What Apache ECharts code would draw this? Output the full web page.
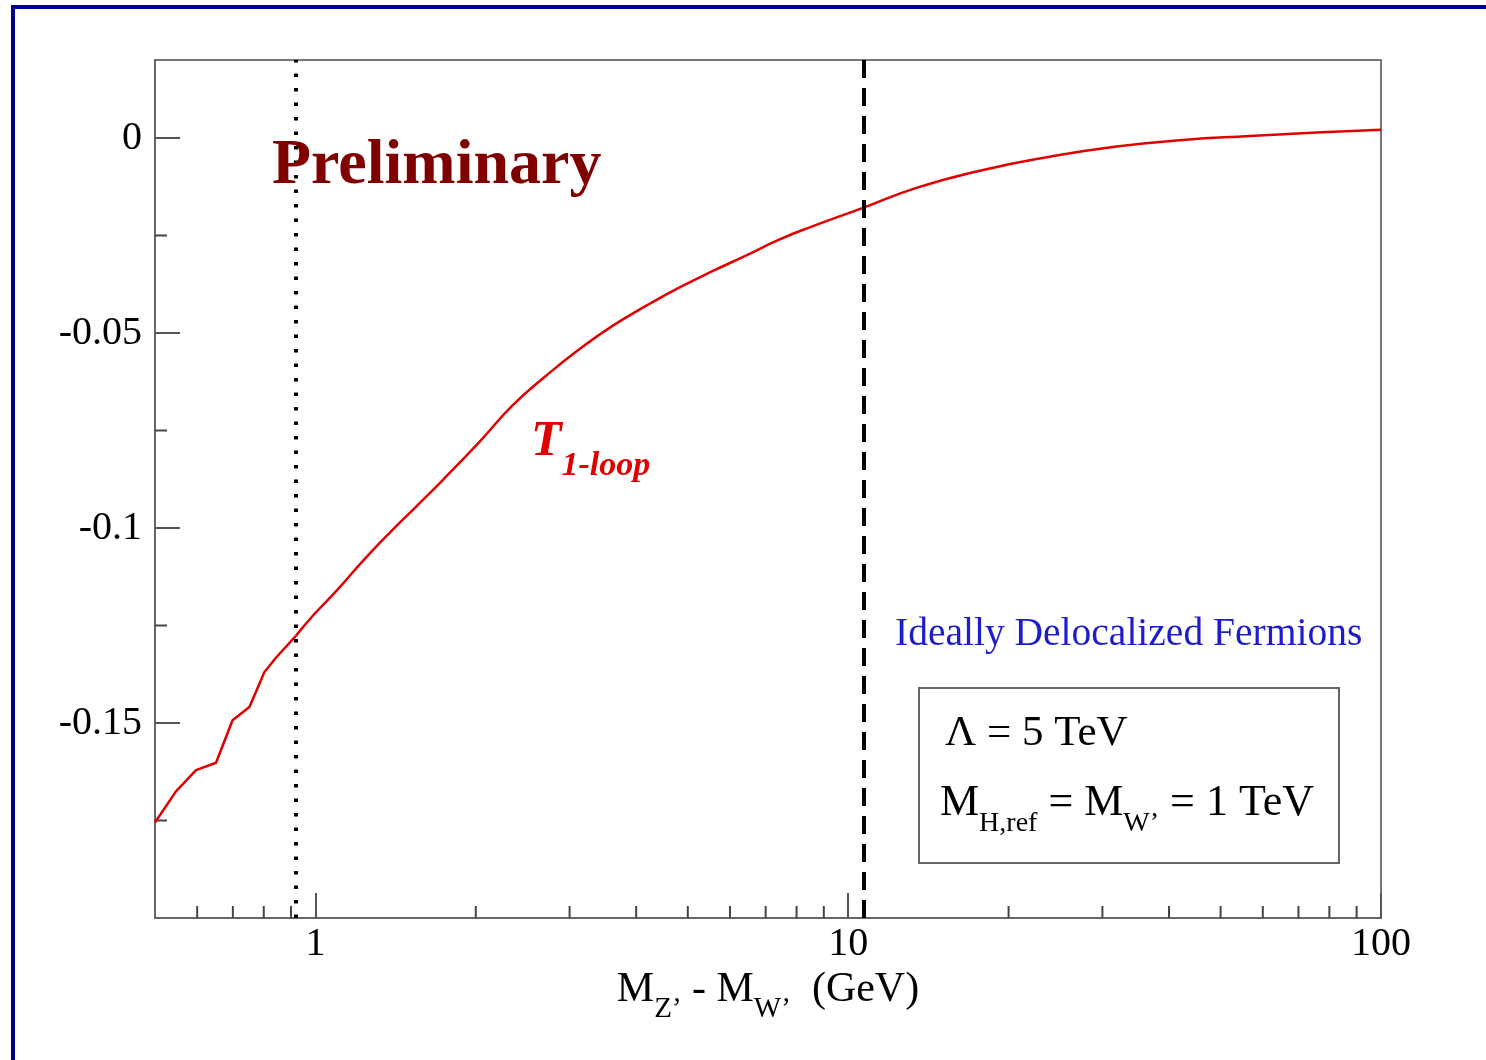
<!DOCTYPE html>
<html>
<head>
<meta charset="utf-8">
<title>T 1-loop vs M_Z' - M_W'</title>
<script src="https://cdn.jsdelivr.net/npm/echarts@6/dist/echarts.min.js"></script>
<style>
  html, body { margin: 0; padding: 0; background: #ffffff; }
  #chart { width: 1486px; height: 1060px; }
</style>
</head>
<body>
<div id="chart"></div>
<script>
// Mass splitting M_Z' - M_W' (GeV)
const massSplit = [0.5, 0.547, 0.597, 0.651, 0.699, 0.752, 0.802, 0.844, 0.92, 0.989,
  1.094, 1.227, 1.377, 1.546, 1.734, 2.032, 2.347, 2.713, 3.132, 3.617,
  4.179, 4.826, 5.573, 6.44, 7.436, 8.587, 10.66, 13.43, 17.92, 23.9,
  31.89, 42.54, 56.75, 75.71, 100];
// One-loop T parameter
const tOneLoop = [-0.1755, -0.1676, -0.1621, -0.1602, -0.1493, -0.1459, -0.1370, -0.1332, -0.1276, -0.1225,
  -0.1162, -0.1085, -0.1013, -0.0945, -0.0877, -0.0779, -0.0685, -0.0609, -0.0541, -0.0481,
  -0.0430, -0.0383, -0.0341, -0.0301, -0.0260, -0.0226, -0.0179, -0.0128, -0.0082, -0.0048,
  -0.0022, -0.0005, 0.0005, 0.0014, 0.0021];
// Below this mass splitting the curve has threshold kinks and is drawn as a plain polyline
const kinkEnd = 0.92;
// Reference mass splittings marked by vertical lines
const dottedMark = 0.92;
const dashedMark = 10.7;
// Axis ranges and minor tick positions
const xMin = 0.5, xMax = 100;
const yMin = -0.2, yMax = 0.02, yStep = 0.05;
const xMinorTicks = [0.6, 0.7, 0.8, 0.9, 2, 3, 4, 5, 6, 7, 8, 9, 20, 30, 40, 50, 60, 70, 80, 90];
const yMinorTicks = [-0.175, -0.125, -0.075, -0.025];

const serif = "'Liberation Serif', 'DejaVu Serif', 'Times New Roman', serif";
const red = '#e00000';
const chart = echarts.init(document.getElementById('chart'), null, { renderer: 'canvas' });

const curve = massSplit.map((x, i) => [x, tOneLoop[i]]);
const curveLow = curve.filter(p => p[0] <= kinkEnd);
const curveHigh = curve.filter(p => p[0] >= kinkEnd);

function minorX(params, api) {
  const p = api.coord([api.value(0), api.value(1)]);
  return { type: 'line', silent: true,
    shape: { x1: p[0], y1: p[1], x2: p[0], y2: p[1] - 12 },
    style: { stroke: '#444', lineWidth: 2 } };
}
function minorY(params, api) {
  const p = api.coord([api.value(0), api.value(1)]);
  return { type: 'line', silent: true,
    shape: { x1: p[0], y1: p[1], x2: p[0] + 12, y2: p[1] },
    style: { stroke: '#444', lineWidth: 2 } };
}

const option = {
  animation: false,
  backgroundColor: '#ffffff',
  grid: {
    left: 155, right: 105, top: 60, bottom: 142,
    containLabel: false, outerBoundsMode: 'none',
    show: true, borderColor: '#777', borderWidth: 2, backgroundColor: 'transparent'
  },
  xAxis: {
    type: 'log', logBase: 10, min: xMin, max: xMax,
    splitLine: { show: false },
    axisLine: { show: true, onZero: false, lineStyle: { color: '#666', width: 2 } },
    axisTick: { show: true, inside: true, length: 25, lineStyle: { color: '#555', width: 2 } },
    axisLabel: { showMinLabel: false, margin: 6, color: '#000', fontFamily: serif, fontSize: 40 },
    name: '{m|M}{s|Z’}{m| - M}{s|W’}{m|  (GeV)}',
    nameLocation: 'middle', nameGap: 37,
    nameTextStyle: {
      color: '#000', fontFamily: serif,
      rich: {
        m: { fontFamily: serif, fontSize: 42, color: '#000' },
        s: { fontFamily: serif, fontSize: 29, color: '#000', padding: [39, 0, 0, 0] }
      }
    }
  },
  yAxis: {
    type: 'value', min: yMin, max: yMax, interval: yStep,
    splitLine: { show: false },
    axisLine: { show: true, onZero: false, lineStyle: { color: '#666', width: 2 } },
    axisTick: { show: true, inside: true, length: 25, lineStyle: { color: '#555', width: 2 } },
    axisLabel: { showMinLabel: false, showMaxLabel: false, margin: 13, color: '#000', fontFamily: serif, fontSize: 40 }
  },
  series: [
    {
      type: 'custom', name: 'x minor ticks', silent: true, clip: false,
      renderItem: minorX,
      data: xMinorTicks.map(v => [v, yMin])
    },
    {
      type: 'custom', name: 'y minor ticks', silent: true, clip: false,
      renderItem: minorY,
      data: yMinorTicks.map(v => [xMin, v])
    },
    {
      type: 'line', name: 'T 1-loop (threshold region)', data: curveLow,
      showSymbol: false, symbol: 'none', smooth: false,
      lineStyle: { color: red, width: 2.5 }
    },
    {
      type: 'line', name: 'T 1-loop', data: curveHigh,
      showSymbol: false, symbol: 'none', smooth: 0.5,
      lineStyle: { color: red, width: 2.5 },
      markLine: {
        silent: true, symbol: 'none', label: { show: false },
        data: [
          { xAxis: dottedMark, lineStyle: { color: '#000', width: 4, type: [3.5, 11] } },
          { xAxis: dashedMark, lineStyle: { color: '#000', width: 4, type: [18, 10] } }
        ]
      }
    }
  ],
  graphic: [
    { type: 'rect', silent: true, z: 100,
      shape: { x: 13, y: 7, width: 1500, height: 1080 },
      style: { fill: 'none', stroke: '#00008b', lineWidth: 4 } },
    { type: 'text', silent: true, z: 50, x: 272, y: 166,
      style: { text: 'Preliminary', fill: '#800000', font: 'bold 64px ' + serif, verticalAlign: 'middle', align: 'left' } },
    { type: 'text', silent: true, z: 50, x: 531, y: 442,
      style: {
        text: '{t|T}{s|1-loop}', verticalAlign: 'middle', align: 'left',
        rich: {
          t: { fontFamily: serif, fontWeight: 'bold', fontStyle: 'italic', fontSize: 50, fill: red },
          s: { fontFamily: serif, fontWeight: 'bold', fontStyle: 'italic', fontSize: 34, fill: red, padding: [48, 0, 0, 0] }
        }
      } },
    { type: 'text', silent: true, z: 50, x: 895, y: 635,
      style: { text: 'Ideally Delocalized Fermions', fill: '#1c1ccc', font: '39.5px ' + serif, verticalAlign: 'middle', align: 'left' } },
    { type: 'rect', silent: true, z: 50,
      shape: { x: 919, y: 688, width: 420, height: 175 },
      style: { fill: '#fff', stroke: '#666', lineWidth: 2 } },
    { type: 'text', silent: true, z: 51, x: 945, y: 734,
      style: { text: 'Λ = 5 TeV', fill: '#000', font: '43px ' + serif, verticalAlign: 'middle', align: 'left' } },
    { type: 'text', silent: true, z: 51, x: 940, y: 803,
      style: {
        text: '{m|M}{s|H,ref}{m| = M}{s|W’}{m| = 1 TeV}', verticalAlign: 'middle', align: 'left',
        rich: {
          m: { fontFamily: serif, fontSize: 44, fill: '#000' },
          s: { fontFamily: serif, fontSize: 28, fill: '#000', padding: [42, 0, 0, 0] }
        }
      } }
  ]
};
chart.setOption(option);
</script>
</body>
</html>
